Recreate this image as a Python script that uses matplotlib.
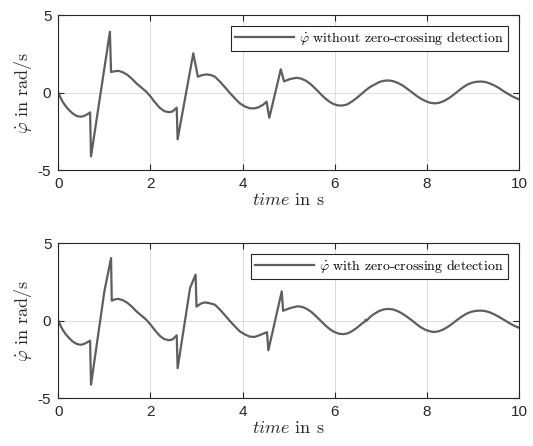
import numpy as np
import matplotlib.pyplot as plt

# angular velocity samples, simulation without zero-crossing detection
t_plain = [0.00, 0.05, 0.10, 0.15, 0.20, 0.25, 0.30, 0.35, 0.40, 0.45, 0.50, 0.55,
           0.60, 0.66, 0.69, 0.71, 1.12, 1.145, 1.20, 1.30, 1.40, 1.50, 1.60, 1.70,
           1.80, 1.90, 2.00, 2.10, 2.20, 2.30, 2.40, 2.48, 2.57, 2.59, 2.93, 3.03,
           3.12, 3.22, 3.32, 3.40, 3.51, 3.62, 3.73, 3.84, 3.94, 4.05, 4.16, 4.26,
           4.34, 4.45, 4.52, 4.58, 4.83, 4.90, 5.03, 5.17, 5.27, 5.37, 5.47, 5.57,
           5.67, 5.77, 5.87, 5.97, 6.07, 6.17, 6.27, 6.37, 6.47, 6.57, 6.67, 6.77,
           6.87, 6.97, 7.07, 7.17, 7.27, 7.37, 7.47, 7.57, 7.67, 7.77, 7.87, 7.97,
           8.07, 8.17, 8.27, 8.37, 8.47, 8.57, 8.67, 8.77, 8.87, 8.97, 9.07, 9.17,
           9.27, 9.37, 9.47, 9.57, 9.67, 9.77, 9.87, 10.00]
w_plain = [0.00, -0.35, -0.62, -0.84, -1.02, -1.18, -1.32, -1.43, -1.51, -1.55, -1.56, -1.52,
           -1.45, -1.35, -1.28, -4.12, 3.92, 1.32, 1.36, 1.40, 1.31, 1.14, 0.88, 0.58,
           0.33, 0.08, -0.25, -0.64, -0.98, -1.20, -1.27, -1.22, -0.98, -3.02, 2.53, 1.02,
           1.12, 1.17, 1.12, 1.02, 0.70, 0.33, -0.05, -0.40, -0.70, -0.90, -1.02, -1.02,
           -0.96, -0.78, -0.59, -1.63, 1.50, 0.72, 0.87, 0.95, 0.90, 0.77, 0.56, 0.28,
           -0.02, -0.32, -0.56, -0.74, -0.83, -0.84, -0.77, -0.59, -0.37, -0.12, 0.14, 0.36,
           0.52, 0.68, 0.76, 0.78, 0.73, 0.62, 0.46, 0.25, 0.03, -0.20, -0.40, -0.55,
           -0.66, -0.70, -0.66, -0.55, -0.38, -0.17, 0.07, 0.30, 0.50, 0.62, 0.69, 0.71,
           0.68, 0.58, 0.45, 0.28, 0.08, -0.10, -0.27, -0.44]

# angular velocity samples, simulation with zero-crossing detection
t_zc = [0.00, 0.05, 0.10, 0.15, 0.20, 0.25, 0.30, 0.35, 0.40, 0.45, 0.50, 0.55,
        0.60, 0.66, 0.69, 0.71, 1.00, 1.145, 1.16, 1.20, 1.30, 1.40, 1.50, 1.60, 1.70,
        1.80, 1.90, 2.00, 2.10, 2.20, 2.30, 2.40, 2.48, 2.57, 2.59, 2.86, 2.98, 3.00,
        3.10, 3.18, 3.28, 3.40, 3.51, 3.62, 3.73, 3.84, 3.94, 4.05, 4.16, 4.26,
        4.34, 4.45, 4.53, 4.56, 4.85, 4.88, 5.03, 5.19, 5.29, 5.39, 5.49, 5.59,
        5.69, 5.79, 5.89, 5.99, 6.09, 6.19, 6.29, 6.39, 6.49, 6.59, 6.65, 6.67, 6.69,
        6.77, 6.87, 6.97, 7.07, 7.17, 7.27, 7.37, 7.47, 7.57, 7.67, 7.77, 7.87, 7.97,
        8.07, 8.15, 8.25, 8.35, 8.45, 8.55, 8.65, 8.75, 8.85, 8.95, 9.05, 9.17,
        9.27, 9.37, 9.47, 9.57, 9.67, 9.77, 9.87, 10.00]
w_zc = [0.00, -0.35, -0.62, -0.84, -1.02, -1.18, -1.32, -1.43, -1.51, -1.55, -1.56, -1.52,
        -1.45, -1.35, -1.30, -4.14, 1.88, 4.03, 1.28, 1.34, 1.40, 1.31, 1.14, 0.88, 0.58,
        0.33, 0.08, -0.25, -0.64, -0.98, -1.20, -1.27, -1.22, -0.96, -3.08, 2.10, 2.96, 0.90,
        1.10, 1.17, 1.12, 1.02, 0.70, 0.33, -0.05, -0.40, -0.70, -0.90, -1.04, -1.06,
        -0.98, -0.85, -0.75, -1.92, 1.88, 0.63, 0.80, 0.92, 0.88, 0.76, 0.56, 0.29,
        0.00, -0.30, -0.55, -0.74, -0.85, -0.88, -0.82, -0.66, -0.45, -0.20, -0.08, 0.05, -0.02,
        0.24, 0.45, 0.62, 0.72, 0.75, 0.71, 0.60, 0.44, 0.24, 0.02, -0.22, -0.44, -0.60,
        -0.70, -0.74, -0.70, -0.59, -0.42, -0.21, 0.02, 0.24, 0.42, 0.55, 0.62, 0.64,
        0.61, 0.52, 0.39, 0.23, 0.05, -0.13, -0.30, -0.47]

labels = [r'$\dot{\varphi}$ without zero-crossing detection',
          r'$\dot{\varphi}$ with zero-crossing detection']

plt.rcParams['mathtext.fontset'] = 'cm'
plt.rcParams['axes.unicode_minus'] = False

fig = plt.figure(figsize=(5.33, 4.46), dpi=100)
ax1 = fig.add_axes([0.1094, 0.6188, 0.8643, 0.3475])
ax2 = fig.add_axes([0.1094, 0.1076, 0.8643, 0.3475])

for ax, t, w, lab in [(ax1, t_plain, w_plain, labels[0]),
                      (ax2, t_zc, w_zc, labels[1])]:
    ax.plot(t, w, color='#5e5e5e', lw=1.6, label=lab)
    ax.set_xlim(0, 10)
    ax.set_ylim(-5, 5)
    ax.set_xticks(np.arange(0, 11, 2))
    ax.set_yticks([-5, 0, 5])
    ax.grid(True, color='#dcdcdc', lw=0.7)
    ax.set_axisbelow(True)
    ax.tick_params(direction='in', top=True, right=True, length=4, width=0.8,
                   color='#262626', labelsize=11, pad=5)
    for lbl in ax.get_xticklabels() + ax.get_yticklabels():
        lbl.set_fontfamily('Liberation Sans')
        lbl.set_color('#262626')
    for sp in ax.spines.values():
        sp.set_color('#262626')
        sp.set_linewidth(0.8)
    ax.set_xlabel(r'$time$ in s', family='cmr10', fontsize=13, color='#262626', labelpad=1)
    ax.set_ylabel(r'$\dot{\varphi}$ in rad/s', family='cmr10', fontsize=13, color='#262626',
                  labelpad=3)
    leg = ax.legend(loc='upper right', prop={'family': 'cmr10', 'size': 10},
                    handlelength=4.2, fancybox=False, framealpha=1, borderpad=0.3,
                    borderaxespad=0.8, handletextpad=0.4)
    leg.get_frame().set_edgecolor('#262626')
    leg.get_frame().set_linewidth(0.8)

fig.savefig('out.png', dpi=100)
